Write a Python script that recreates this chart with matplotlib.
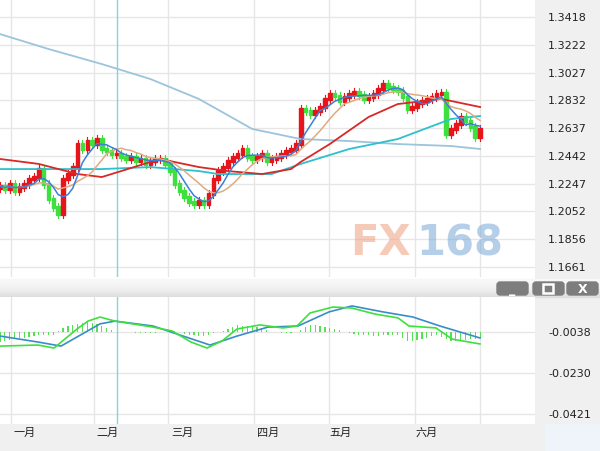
import numpy as np
import matplotlib
matplotlib.use("Agg")
import matplotlib.pyplot as plt
from matplotlib.patches import Rectangle, FancyBboxPatch

plt.rcParams['font.family'] = ['DejaVu Sans', 'Noto Sans CJK SC']

closes = [1.2230,1.2209,1.2244,1.2195,1.2223,1.2244,1.2279,1.2293,1.2349,1.2244,
          1.2139,1.2082,1.2033,1.2279,1.2314,1.2363,1.2525,1.2490,1.2546,1.2525,
          1.2560,1.2490,1.2476,1.2455,1.2455,1.2434,1.2420,1.2434,1.2406,1.2420,
          1.2385,1.2406,1.2420,1.2420,1.2385,1.2335,1.2244,1.2195,1.2153,1.2117,
          1.2103,1.2124,1.2103,1.2174,1.2279,1.2335,1.2363,1.2406,1.2434,1.2455,
          1.2490,1.2434,1.2420,1.2434,1.2455,1.2406,1.2420,1.2434,1.2455,1.2476,
          1.2490,1.2525,1.2771,1.2757,1.2736,1.2757,1.2785,1.2842,1.2877,1.2863,
          1.2827,1.2856,1.2877,1.2891,1.2870,1.2842,1.2856,1.2877,1.2912,1.2947,
          1.2926,1.2912,1.2898,1.2856,1.2771,1.2785,1.2813,1.2827,1.2842,1.2856,
          1.2877,1.2884,1.2595,1.2631,1.2666,1.2715,1.2687,1.2645,1.2574,1.2631]
first_open = 1.2215

ma_long_idx = [0, 10, 21, 31, 41, 52, 62, 72, 82, 93, 99]
ma_long = [1.3298, 1.3193, 1.3087, 1.2982, 1.2842, 1.2631, 1.2560, 1.2546, 1.2525, 1.2511, 1.2490]
ma_cyan_idx = [0, 21, 31, 41, 45, 56, 62, 72, 82, 93, 99]
ma_cyan = [1.2349, 1.2349, 1.2363, 1.2335, 1.2314, 1.2314, 1.2385, 1.2490, 1.2560, 1.2701, 1.2722]
ma_red_idx = [0, 8, 16, 21, 25, 33, 41, 47, 54, 60, 62, 68, 76, 82, 91, 99]
ma_red = [1.2420, 1.2385, 1.2314, 1.2293, 1.2335, 1.2420, 1.2363, 1.2335, 1.2314, 1.2349, 1.2399, 1.2525, 1.2715, 1.2806, 1.2842, 1.2785]

macd_x = [0, 38, 54, 77, 88, 100, 115, 153, 172, 191, 207, 222, 237, 260, 283, 297, 310, 333, 352, 375, 398, 409, 436, 452, 480]
macd = [-0.0104, -0.0099, -0.0113, -0.0024, 0.0013, 0.0032, 0.0013, -0.0015, -0.0033, -0.0085, -0.0113, -0.0080, -0.0024, -0.0005, -0.0019, -0.0010, 0.0051, 0.0079, 0.0074, 0.0046, 0.0028, -0.0010, -0.0019, -0.0071, -0.0094]
sig_x = [0, 38, 61, 100, 115, 153, 210, 237, 268, 298, 329, 352, 383, 413, 440, 480]
signal = [-0.0057, -0.0085, -0.0104, 0.0000, 0.0013, -0.0010, -0.0099, -0.0057, -0.0015, -0.0010, 0.0056, 0.0084, 0.0056, 0.0032, -0.0010, -0.0066]

price_ticks = [1.3418, 1.3222, 1.3027, 1.2832, 1.2637, 1.2442, 1.2247, 1.2052, 1.1856, 1.1661]
macd_ticks = [-0.0038, -0.0230, -0.0421]
months = ['一月', '二月', '三月', '四月', '五月', '六月']
month_px = [25, 107, 182, 268, 341, 427]
vgrid_px = [11, 94, 168, 254, 329, 415, 480]

W, H = 600, 452
STEP = 4.85
fig = plt.figure(figsize=(6, 4.52), dpi=100)
fig.patch.set_facecolor('white')

def ax_px(x0, y0, x1, y1, **kw):
    return fig.add_axes([x0 / W, 1 - y1 / H, (x1 - x0) / W, (y1 - y0) / H], **kw)

bg = ax_px(0, 0, 600, 452); bg.set_axis_off(); bg.set_xlim(0, 600); bg.set_ylim(452, 0)
bg.add_patch(Rectangle((535, 0), 65, 280, color='#f0f0f0'))
bg.add_patch(Rectangle((535, 298), 65, 127, color='#f0f0f0'))
bg.add_patch(Rectangle((0, 425), 545, 27, color='#f0f0f0'))
bg.add_patch(Rectangle((545, 425), 55, 27, color='#eef4fa'))
for i in range(18):
    c = 0.97 - 0.10 * (i / 17) ** 2
    bg.add_patch(Rectangle((0, 280 + i), 600, 1, color=(c, c, c)))
for bx in [497, 533, 567]:
    bg.add_patch(FancyBboxPatch((bx, 283), 31, 13, boxstyle='round,pad=0,rounding_size=3', color='#7d7d7d'))
bg.text(512.5, 290, '_', color='white', ha='center', va='center', fontsize=9, fontweight='bold')
bg.add_patch(Rectangle((543, 285), 10, 9, fill=False, ec='white', lw=1.8))
bg.text(582.5, 290, 'X', color='white', ha='center', va='center', fontsize=9, fontweight='bold')

n = len(closes)
xs = np.arange(n) * STEP
opens = [first_open] + closes[:-1]
ylo, yhi = 1.3418 - 260 * 0.000703, 1.3418 + 18 * 0.000703
ax = ax_px(0, 0, 535, 278)
ax.set_xlim(0, 535); ax.set_ylim(ylo, yhi)
for t in price_ticks:
    ax.axhline(t, color='#e6e6e6', lw=1, zorder=0)
for v in vgrid_px:
    ax.axvline(v, color='#e6e6e6', lw=1, zorder=0)
ax.axvline(117, color='#7fd8d8', lw=1, zorder=1)
for x, o, c in zip(xs, opens, closes):
    col = '#e8141c' if c >= o else '#3ee03e'
    hi, lo = max(o, c) + 0.0028, min(o, c) - 0.0028
    ax.plot([x, x], [lo, hi], color=col, lw=0.8, zorder=2)
    b0 = min(o, c) - 0.0008
    ax.add_patch(Rectangle((x - 1.8, b0), 3.6, abs(c - o) + 0.0016, color=col, zorder=3))
cs = np.array(closes)
ma5 = np.array([cs[max(0, i - 4):i + 1].mean() for i in range(n)])
ma10 = np.array([cs[max(0, i - 9):i + 1].mean() for i in range(n)])
ax.plot(np.array(ma_long_idx) * STEP, ma_long, color='#9cc4dc', lw=1.3, zorder=4)
ax.plot(np.array(ma_cyan_idx) * STEP, ma_cyan, color='#2ec0cc', lw=1.3, zorder=4)
ax.plot(np.array(ma_red_idx) * STEP, ma_red, color='#d82828', lw=1.3, zorder=4)
ax.plot(xs, ma10, color='#e0aa80', lw=1.1, zorder=5)
ax.plot(xs, ma5, color='#3a80d8', lw=1.1, zorder=5)
ax.text(350, 1.1835, 'FX', color='#f0a080', fontsize=30, fontweight='bold', alpha=0.55, va='center')
ax.text(416, 1.1835, '168', color='#7aa8d8', fontsize=30, fontweight='bold', alpha=0.55, va='center')
for s in ax.spines.values(): s.set_visible(False)
ax.set_xticks([]); ax.set_yticks([])
for t in price_ticks:
    bg.text(548, 18 + (1.3418 - t) / 0.000703, f'{t:.4f}', fontsize=8, va='center', color='#222222')

y_of = lambda v: 333 - (v + 0.0038) / 0.000468
mtop, mbot = 298, 425
vtop = -0.0038 + (333 - mtop) * 0.000468
vbot = -0.0038 - (mbot - 333) * 0.000468
ax2 = ax_px(0, mtop, 535, mbot)
ax2.set_xlim(0, 535); ax2.set_ylim(vbot, vtop)
for t in macd_ticks:
    ax2.axhline(t, color='#e6e6e6', lw=1, zorder=0)
for v in vgrid_px:
    ax2.axvline(v, color='#e6e6e6', lw=1, zorder=0)
ax2.axvline(117, color='#7fd8d8', lw=1, zorder=1)
m_i = np.interp(xs, macd_x, macd)
s_i = np.interp(xs, sig_x, signal)
hist = m_i - s_i
ax2.bar(xs, hist, bottom=-0.0038, width=1.2, color='#55e055', zorder=2)
ax2.plot(sig_x, signal, color='#3a8cc8', lw=1.2, zorder=3)
ax2.plot(macd_x, macd, color='#3ee03e', lw=1.2, zorder=4)
for s in ax2.spines.values(): s.set_visible(False)
ax2.set_xticks([]); ax2.set_yticks([])
for t in macd_ticks:
    bg.text(548, y_of(t), f'{t:.4f}', fontsize=8, va='center', color='#222222')
for m, px in zip(months, month_px):
    bg.text(px, 433, m, fontsize=8, ha='center', va='center', color='#222222')

fig.savefig('out.png', dpi=100)
